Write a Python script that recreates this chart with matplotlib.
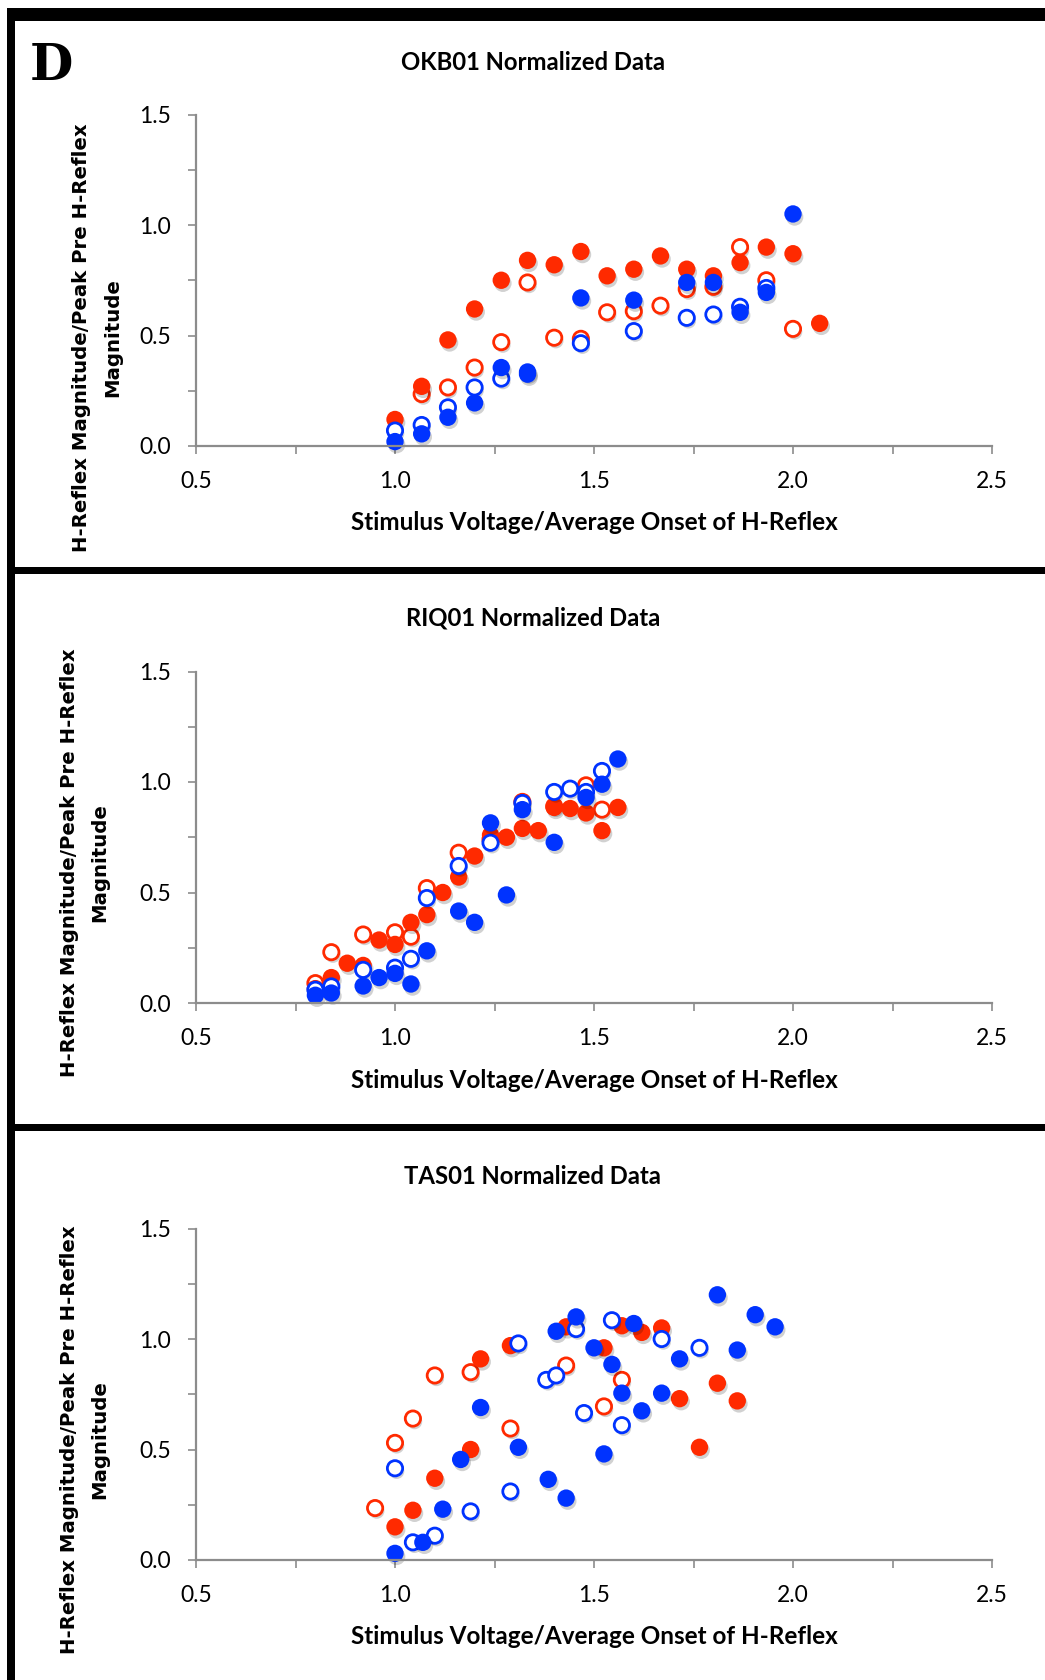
import matplotlib.pyplot as plt
import matplotlib.patheffects as pe
from matplotlib.patches import Rectangle
from matplotlib.ticker import MultipleLocator

# ---- OKB01 ----
okb_red_fill_x = [1.0, 1.067, 1.133, 1.2, 1.267, 1.333, 1.4, 1.467, 1.533, 1.6, 1.667, 1.733, 1.8, 1.867, 1.933, 2.0, 2.067]
okb_red_fill_y = [0.12, 0.27, 0.48, 0.62, 0.75, 0.84, 0.82, 0.88, 0.77, 0.80, 0.86, 0.80, 0.77, 0.83, 0.90, 0.87, 0.555]
okb_red_open_x = [1.067, 1.133, 1.2, 1.267, 1.333, 1.4, 1.467, 1.533, 1.6, 1.667, 1.733, 1.8, 1.867, 1.933, 2.0]
okb_red_open_y = [0.235, 0.265, 0.355, 0.47, 0.74, 0.49, 0.485, 0.605, 0.61, 0.635, 0.71, 0.72, 0.90, 0.75, 0.53]
okb_blue_fill_x = [1.0, 1.067, 1.133, 1.2, 1.267, 1.333, 1.333, 1.467, 1.6, 1.733, 1.8, 1.867, 1.933, 2.0]
okb_blue_fill_y = [0.02, 0.055, 0.13, 0.195, 0.355, 0.335, 0.325, 0.67, 0.66, 0.74, 0.74, 0.605, 0.695, 1.05]
okb_blue_open_x = [1.0, 1.067, 1.133, 1.2, 1.267, 1.467, 1.6, 1.733, 1.8, 1.867, 1.933]
okb_blue_open_y = [0.07, 0.095, 0.175, 0.265, 0.305, 0.465, 0.52, 0.58, 0.595, 0.63, 0.715]

# ---- RIQ01 ----
riq_red_fill_x = [0.80, 0.84, 0.88, 0.92, 0.96, 1.00, 1.04, 1.08, 1.12, 1.16, 1.20, 1.24, 1.28, 1.32, 1.36, 1.40, 1.44, 1.48, 1.52, 1.56]
riq_red_fill_y = [0.065, 0.115, 0.18, 0.17, 0.285, 0.265, 0.365, 0.40, 0.50, 0.57, 0.665, 0.76, 0.75, 0.79, 0.78, 0.885, 0.88, 0.86, 0.78, 0.885]
riq_red_open_x = [0.80, 0.84, 0.92, 1.00, 1.04, 1.08, 1.16, 1.24, 1.32, 1.40, 1.48, 1.52]
riq_red_open_y = [0.09, 0.23, 0.31, 0.32, 0.30, 0.52, 0.68, 0.74, 0.91, 0.89, 0.985, 0.875]
riq_blue_fill_x = [0.80, 0.84, 0.92, 0.96, 1.00, 1.04, 1.08, 1.16, 1.20, 1.24, 1.28, 1.32, 1.40, 1.48, 1.52, 1.56]
riq_blue_fill_y = [0.035, 0.045, 0.077, 0.115, 0.134, 0.086, 0.236, 0.416, 0.365, 0.815, 0.489, 0.875, 0.727, 0.93, 0.99, 1.104]
riq_blue_open_x = [0.80, 0.84, 0.92, 1.00, 1.04, 1.08, 1.16, 1.24, 1.32, 1.40, 1.44, 1.48, 1.52]
riq_blue_open_y = [0.06, 0.075, 0.15, 0.16, 0.20, 0.475, 0.62, 0.725, 0.905, 0.955, 0.97, 0.955, 1.05]

# ---- TAS01 ----
tas_red_fill_x = [1.0, 1.045, 1.10, 1.19, 1.215, 1.29, 1.43, 1.525, 1.57, 1.62, 1.67, 1.715, 1.765, 1.81, 1.86]
tas_red_fill_y = [0.15, 0.225, 0.37, 0.50, 0.91, 0.97, 1.055, 0.96, 1.06, 1.03, 1.05, 0.73, 0.51, 0.80, 0.72]
tas_red_open_x = [0.95, 1.0, 1.045, 1.10, 1.19, 1.29, 1.43, 1.525, 1.57]
tas_red_open_y = [0.235, 0.53, 0.64, 0.835, 0.85, 0.595, 0.88, 0.695, 0.815]
tas_blue_fill_x = [1.0, 1.07, 1.12, 1.165, 1.215, 1.31, 1.385, 1.405, 1.43, 1.455, 1.50, 1.525, 1.545, 1.57, 1.60, 1.62, 1.67, 1.715, 1.81, 1.86, 1.905, 1.955]
tas_blue_fill_y = [0.03, 0.08, 0.23, 0.455, 0.69, 0.51, 0.365, 1.035, 0.28, 1.10, 0.96, 0.48, 0.885, 0.755, 1.07, 0.675, 0.755, 0.91, 1.20, 0.95, 1.11, 1.055]
tas_blue_open_x = [1.0, 1.045, 1.10, 1.19, 1.29, 1.31, 1.38, 1.405, 1.455, 1.475, 1.545, 1.57, 1.67, 1.765]
tas_blue_open_y = [0.415, 0.08, 0.11, 0.22, 0.31, 0.98, 0.815, 0.835, 1.045, 0.665, 1.085, 0.61, 1.0, 0.96]

titles = ['OKB01 Normalized Data', 'RIQ01 Normalized Data', 'TAS01 Normalized Data']
xlabel = 'Stimulus Voltage/Average Onset of H-Reflex'
ylabel1 = 'H-Reflex Magnitude/Peak Pre H-Reflex'
ylabel2 = 'Magnitude'

RED = '#ff2a00'
BLUE = '#0033ff'
AXC = '#8c8c8c'
W, H = 1045, 1680

panels = [
    (okb_red_open_x, okb_red_open_y, okb_red_fill_x, okb_red_fill_y,
     okb_blue_open_x, okb_blue_open_y, okb_blue_fill_x, okb_blue_fill_y),
    (riq_red_open_x, riq_red_open_y, riq_red_fill_x, riq_red_fill_y,
     riq_blue_open_x, riq_blue_open_y, riq_blue_fill_x, riq_blue_fill_y),
    (tas_red_open_x, tas_red_open_y, tas_red_fill_x, tas_red_fill_y,
     tas_blue_open_x, tas_blue_open_y, tas_blue_fill_x, tas_blue_fill_y),
]
# pixel layout: axis baseline, title y, xlabel y, ylabel centre y, ylabel line x's
layout = [
    (446, 62, 523, 338, 82, 113),
    (1003, 618, 1080, 863, 70, 100),
    (1560, 1176, 1637, 1440, 70, 100),
]

fig = plt.figure(figsize=(W / 100, H / 100), dpi=100)


def bar(x0, y0, x1, y1):
    fig.add_artist(Rectangle((x0 / W, 1 - y1 / H), (x1 - x0) / W, (y1 - y0) / H,
                             transform=fig.transFigure, color='black', lw=0))


# black frame pieces
bar(7, 8, W, 21)
bar(7, 8, 15, H)
bar(7, 567, W, 574)
bar(7, 1124, W, 1131)

shadow = [pe.SimplePatchShadow(offset=(1.2, -2.2), shadow_rgbFace='black', alpha=0.18), pe.Normal()]

for i, (data, lay) in enumerate(zip(panels, layout)):
    y0, ty, xly, ylc, yx1, yx2 = lay
    ax = fig.add_axes([196 / W, 1 - y0 / H, (992 - 196) / W, 331.5 / H])
    ax.set_xlim(0.5, 2.5)
    ax.set_ylim(0, 1.5)
    for s in ['top', 'right']:
        ax.spines[s].set_visible(False)
    for s in ['left', 'bottom']:
        ax.spines[s].set_color(AXC)
        ax.spines[s].set_linewidth(1.6)
    ax.xaxis.set_major_locator(MultipleLocator(0.5))
    ax.xaxis.set_minor_locator(MultipleLocator(0.25))
    ax.yaxis.set_major_locator(MultipleLocator(0.5))
    ax.yaxis.set_minor_locator(MultipleLocator(0.25))
    ax.xaxis.set_major_formatter(lambda v, p: f'{v:.1f}')
    ax.yaxis.set_major_formatter(lambda v, p: f'{v:.1f}')
    ax.tick_params(which='both', direction='out', length=6, width=1.2, color=AXC)
    ax.tick_params(axis='x', pad=12, labelsize=16.5)
    ax.tick_params(axis='y', pad=12, labelsize=16.5)
    for lab in ax.get_xticklabels() + ax.get_yticklabels():
        lab.set_family('Lato')

    rox, roy, rfx, rfy, box, boy, bfx, bfy = data
    ax.plot(rox, roy, 'o', ms=11, mfc='white', mec=RED, mew=2, ls='none', clip_on=False, path_effects=shadow)
    ax.plot(rfx, rfy, 'o', ms=12.5, mfc=RED, mec=RED, mew=0, ls='none', clip_on=False, path_effects=shadow)
    ax.plot(box, boy, 'o', ms=11, mfc='white', mec=BLUE, mew=2, ls='none', clip_on=False, path_effects=shadow)
    ax.plot(bfx, bfy, 'o', ms=12.5, mfc=BLUE, mec=BLUE, mew=0, ls='none', clip_on=False, path_effects=shadow)

    fig.text(533 / W, 1 - ty / H, titles[i], ha='center', va='center',
             family='Lato', weight='bold', fontsize=17.2)
    fig.text(594 / W, 1 - xly / H, xlabel, ha='center', va='center',
             family='Lato', weight='bold', fontsize=17.5)
    fig.text(yx1 / W, 1 - ylc / H, ylabel1, ha='center', va='center', rotation=90,
             family='DejaVu Sans', weight='bold', fontsize=14.2)
    fig.text(yx2 / W, 1 - ylc / H, ylabel2, ha='center', va='center', rotation=90,
             family='DejaVu Sans', weight='bold', fontsize=14.2)

fig.text(51 / W, 1 - 66 / H, 'D', ha='center', va='center',
         family='DejaVu Serif', weight='bold', fontsize=36)

fig.savefig('out.png', dpi=100)
